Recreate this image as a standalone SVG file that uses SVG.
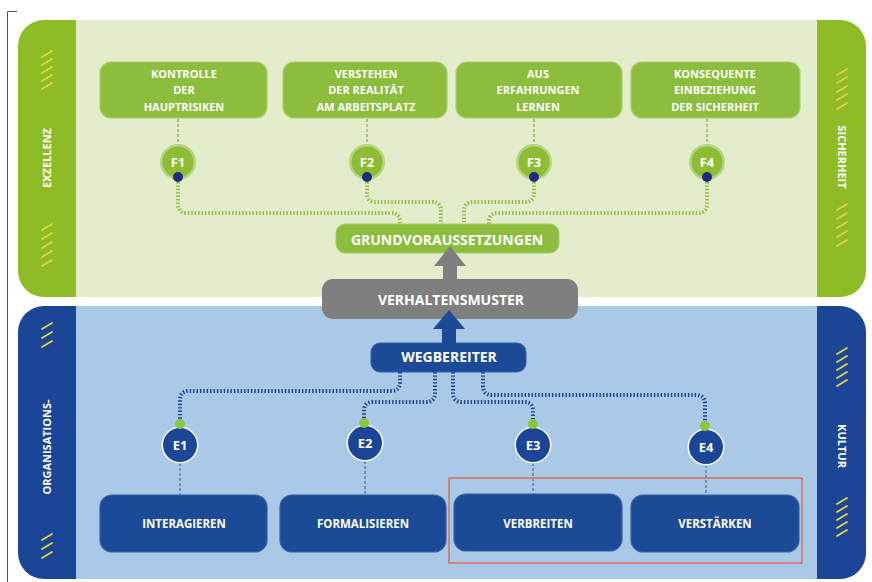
<svg xmlns="http://www.w3.org/2000/svg" width="872" height="582" viewBox="0 0 872 582">
<defs>
<style>
.t{font-family:"Open Sans","Liberation Sans",sans-serif;font-weight:bold;fill:#ffffff;text-anchor:middle}
.box-g{fill:#8cbd3c;stroke:#a9cf6c;stroke-width:1.2}
.box-b{fill:#1b4a97;stroke:#3561ab;stroke-width:1.2}
.sl{stroke:#e9d23c;stroke-width:1.8;fill:none;stroke-linecap:round}
.dg{fill:none;stroke:#8dbd3a;stroke-width:4;stroke-dasharray:1.4 2}
.db{fill:none;stroke:#1c3f8e;stroke-width:4;stroke-dasharray:1.4 2}
.thg{stroke:#8aa84a;stroke-width:1.2;stroke-dasharray:3 2}
.thb{stroke:#4a6aa6;stroke-width:1.2;stroke-dasharray:3 2}
</style>
</defs>
<rect width="872" height="582" fill="#ffffff"/>
<path d="M17 11.5 H7.5 V582" fill="none" stroke="#555555" stroke-width="1"/>

<!-- top panel -->
<g id="panel-top">
<rect x="18" y="20" width="848" height="277" rx="26" fill="#8dbc27"/>
<rect x="76" y="20" width="741" height="277" fill="#e3edcc"/>
<text class="t" font-size="11" transform="translate(47,158) rotate(-90)" y="4">EXZELLENZ</text>
<text class="t" font-size="11" transform="translate(842,157) rotate(90)" y="4">SICHERHEIT</text>
<path class="sl" d="M42 57 L52 51 M42 65 L52 59 M42 73 L52 67 M42 81 L52 75 M42 89 L52 83"/>
<path class="sl" d="M42 230 L52 224 M42 239 L52 233 M42 248 L52 242 M42 257 L52 251 M42 266 L52 260"/>
<path class="sl" d="M837 75 L847 69 M837 83 L847 77 M837 92 L847 86 M837 100 L847 94 M837 109 L847 103"/>
<path class="sl" d="M837 210 L847 204 M837 219 L847 213 M837 228 L847 222 M837 237 L847 231 M837 246 L847 240"/>
</g>

<!-- bottom panel -->
<g id="panel-bottom">
<rect x="18" y="306" width="848" height="273" rx="26" fill="#1b4597"/>
<rect x="76" y="306" width="741" height="273" fill="#aac9e6"/>
<text class="t" font-size="11" transform="translate(47,447) rotate(-90)" y="4">ORGANISATIONS-</text>
<text class="t" font-size="11" transform="translate(842,446) rotate(90)" y="4">KULTUR</text>
<path class="sl" d="M42 329 L52 323 M42 338 L52 332 M42 347 L52 341"/>
<path class="sl" d="M42 540 L52 534 M42 549 L52 543 M42 558 L52 552"/>
<path class="sl" d="M837 354 L847 348 M837 362 L847 356 M837 370 L847 364 M837 378 L847 372 M837 386 L847 380"/>
<path class="sl" d="M837 504 L847 498 M837 512 L847 506 M837 520 L847 514 M837 528 L847 522 M837 536 L847 530"/>
</g>

<!-- connectors -->
<g id="connectors">
<line class="thg" x1="178" y1="119" x2="178" y2="145"/>
<line class="thg" x1="367" y1="119" x2="367" y2="145"/>
<line class="thg" x1="534" y1="119" x2="534" y2="145"/>
<line class="thg" x1="707" y1="119" x2="707" y2="145"/>
<path class="dg" d="M178 182 V204 Q178 213 187 213 H391 Q400 213 400 222 V225"/>
<path class="dg" d="M367 182 V193 Q367 202 376 202 H432 Q441 202 441 211 V225"/>
<path class="dg" d="M534 182 V193 Q534 202 525 202 H473 Q464 202 464 211 V225"/>
<path class="dg" d="M707 182 V204 Q707 213 698 213 H498 Q489 213 489 222 V225"/>
<path class="db" d="M400 372 V382 Q400 391 391 391 H189 Q180 391 180 400 V421"/>
<path class="db" d="M435 372 V393 Q435 402 426 402 H373 Q364 402 364 411 V421"/>
<path class="db" d="M453 372 V393 Q453 402 462 402 H524 Q533 402 533 411 V421"/>
<path class="db" d="M483 372 V386 Q483 395 492 395 H696 Q705 395 705 404 V421"/>
<line class="thb" x1="180" y1="463" x2="180" y2="495"/>
<line class="thb" x1="365" y1="461" x2="365" y2="495"/>
<line class="thb" x1="533" y1="463" x2="533" y2="495"/>
<line class="thb" x1="706" y1="465" x2="706" y2="495"/>
</g>

<!-- top boxes -->
<g id="box-f1"><rect class="box-g" x="100" y="62" width="167" height="56" rx="11"/>
<text class="t" font-size="11" x="184" y="78">KONTROLLE</text><text class="t" font-size="11" x="184" y="94">DER</text><text class="t" font-size="11" x="184" y="111">HAUPTRISIKEN</text></g>
<g id="box-f2"><rect class="box-g" x="283" y="62" width="164" height="56" rx="11"/>
<text class="t" font-size="11" x="366" y="78">VERSTEHEN</text><text class="t" font-size="11" x="366" y="94">DER REALITÄT</text><text class="t" font-size="11" x="366" y="111">AM ARBEITSPLATZ</text></g>
<g id="box-f3"><rect class="box-g" x="456" y="62" width="166" height="56" rx="11"/>
<text class="t" font-size="11" x="538" y="78">AUS</text><text class="t" font-size="11" x="538" y="94">ERFAHRUNGEN</text><text class="t" font-size="11" x="538" y="111">LERNEN</text></g>
<g id="box-f4"><rect class="box-g" x="631" y="62" width="169" height="56" rx="11"/>
<text class="t" font-size="11" x="715" y="78">KONSEQUENTE</text><text class="t" font-size="11" x="715" y="94">EINBEZIEHUNG</text><text class="t" font-size="11" x="715" y="111">DER SICHERHEIT</text></g>

<!-- F circles -->
<g id="f1"><circle cx="178" cy="162" r="18" fill="#b5d67e"/><circle cx="178" cy="162" r="15.5" fill="#8cbd33"/><text class="t" font-size="13" x="178" y="167">F1</text><circle cx="178" cy="177" r="5" fill="#1e2a82"/></g>
<g id="f2"><circle cx="367" cy="162" r="18" fill="#b5d67e"/><circle cx="367" cy="162" r="15.5" fill="#8cbd33"/><text class="t" font-size="13" x="367" y="167">F2</text><circle cx="367" cy="177" r="5" fill="#1e2a82"/></g>
<g id="f3"><circle cx="534" cy="162" r="18" fill="#b5d67e"/><circle cx="534" cy="162" r="15.5" fill="#8cbd33"/><text class="t" font-size="13" x="534" y="167">F3</text><circle cx="534" cy="177" r="5" fill="#1e2a82"/></g>
<g id="f4"><circle cx="707" cy="162" r="18" fill="#b5d67e"/><circle cx="707" cy="162" r="15.5" fill="#8cbd33"/><text class="t" font-size="13" x="707" y="167">F4</text><circle cx="707" cy="177" r="5" fill="#1e2a82"/></g>

<!-- center column -->
<g id="grundvoraussetzungen"><rect x="336" y="224" width="223" height="29" rx="9" fill="#8cbd3c" stroke="#a9cf6c" stroke-width="1"/>
<text class="t" font-size="14" x="447" y="245">GRUNDVORAUSSETZUNGEN</text></g>
<g id="verhaltensmuster"><rect x="322" y="279" width="256" height="40" rx="11" fill="#7f7f7f"/>
<text class="t" font-size="14" x="451" y="305">VERHALTENSMUSTER</text></g>
<g id="arrow-gray"><polygon points="450,246 466,266 457,266 457,280 443,280 443,266 434,266" fill="#7f7f7f"/></g>
<g id="wegbereiter"><rect x="371" y="343" width="155" height="29" rx="9" fill="#1b4a97" stroke="#3561ab" stroke-width="1"/>
<text class="t" font-size="14" x="449" y="362">WEGBEREITER</text></g>
<g id="arrow-blue"><polygon points="449,310 465,329 456,329 456,344 442,344 442,329 433,329" fill="#1b4a97"/></g>

<!-- E circles -->
<g id="e1"><circle cx="180" cy="445" r="18.5" fill="#ffffff"/><circle cx="180" cy="445" r="17" fill="#1b4597"/><text class="t" font-size="13" x="180" y="450">E1</text><circle cx="180" cy="424" r="5" fill="#8cc63a"/></g>
<g id="e2"><circle cx="365" cy="443" r="18.5" fill="#ffffff"/><circle cx="365" cy="443" r="17" fill="#1b4597"/><text class="t" font-size="13" x="365" y="448">E2</text><circle cx="364" cy="423" r="5" fill="#8cc63a"/></g>
<g id="e3"><circle cx="533" cy="445" r="18.5" fill="#ffffff"/><circle cx="533" cy="445" r="17" fill="#1b4597"/><text class="t" font-size="13" x="533" y="450">E3</text><circle cx="533" cy="424" r="5" fill="#8cc63a"/></g>
<g id="e4"><circle cx="706" cy="447" r="18.5" fill="#ffffff"/><circle cx="706" cy="447" r="17" fill="#1b4597"/><text class="t" font-size="13" x="706" y="452">E4</text><circle cx="705" cy="426" r="5" fill="#8cc63a"/></g>

<!-- bottom boxes -->
<g id="box-e1"><rect class="box-b" x="100" y="495" width="167" height="57" rx="12"/><text class="t" font-size="11.5" x="184" y="528">INTERAGIEREN</text></g>
<g id="box-e2"><rect class="box-b" x="280" y="495" width="166" height="57" rx="12"/><text class="t" font-size="11.5" x="363" y="528">FORMALISIEREN</text></g>
<g id="box-e3"><rect class="box-b" x="454" y="494" width="168" height="57" rx="12"/><text class="t" font-size="11.5" x="538" y="528">VERBREITEN</text></g>
<g id="box-e4"><rect class="box-b" x="631" y="495" width="168" height="57" rx="12"/><text class="t" font-size="11.5" x="715" y="528">VERSTÄRKEN</text></g>

<rect id="highlight" x="449" y="478" width="353" height="85" fill="none" stroke="#d9705a" stroke-width="1.5"/>
</svg>
